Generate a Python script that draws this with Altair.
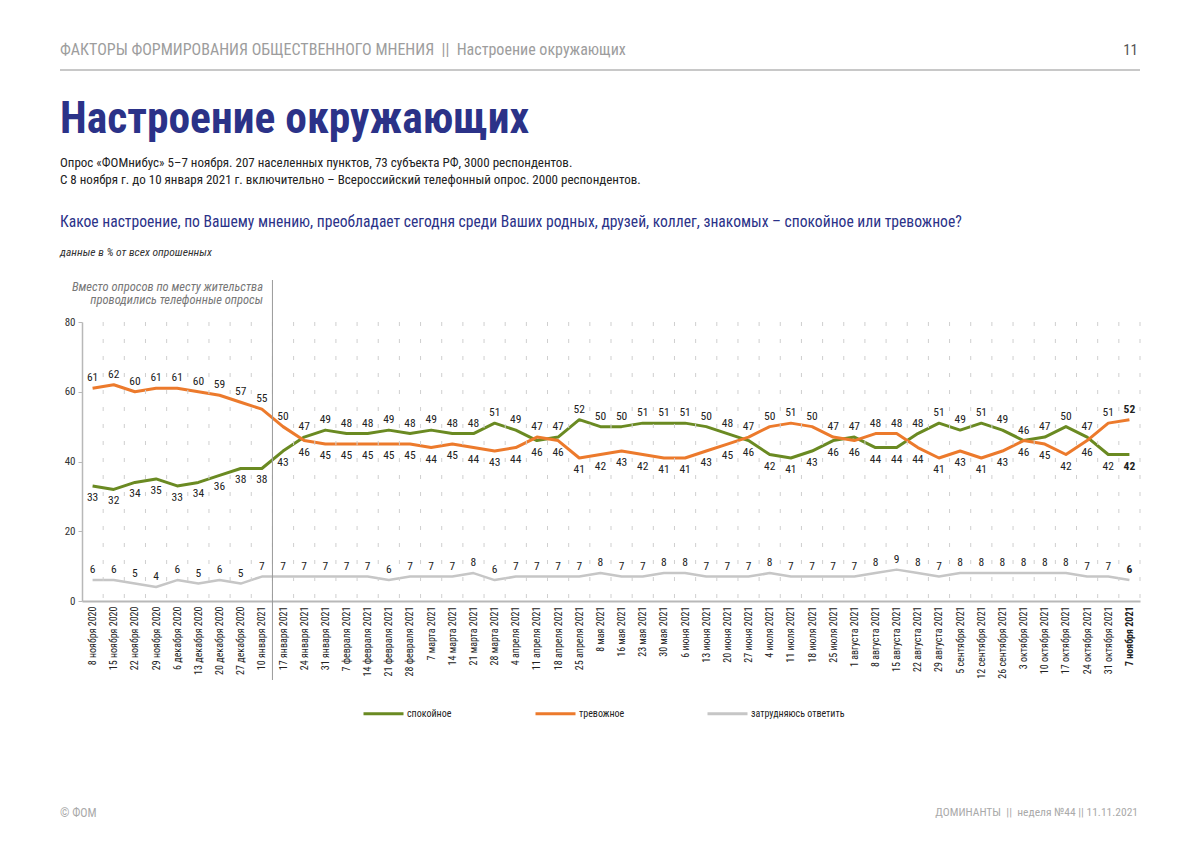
import json
import altair as alt
import pandas as pd

dates = [
    "8 ноября 2020", "15 ноября 2020", "22 ноября 2020", "29 ноября 2020",
    "6 декабря 2020", "13 декабря 2020", "20 декабря 2020", "27 декабря 2020",
    "10 января 2021", "17 января 2021", "24 января 2021", "31 января 2021",
    "7 февраля 2021", "14 февраля 2021", "21 февраля 2021", "28 февраля 2021",
    "7 марта 2021", "14 марта 2021", "21 марта 2021", "28 марта 2021",
    "4 апреля 2021", "11 апреля 2021", "18 апреля 2021", "25 апреля 2021",
    "8 мая 2021", "16 мая 2021", "23 мая 2021", "30 мая 2021",
    "6 июня 2021", "13 июня 2021", "20 июня 2021", "27 июня 2021",
    "4 июля 2021", "11 июля 2021", "18 июля 2021", "25 июля 2021",
    "1 августа 2021", "8 августа 2021", "15 августа 2021", "22 августа 2021",
    "29 августа 2021", "5 сентября 2021", "12 сентября 2021", "26 сентября 2021",
    "3 октября 2021", "10 октября 2021", "17 октября 2021", "24 октября 2021",
    "31 октября 2021", "7 ноября 2021",
]
calm = [33, 32, 34, 35, 33, 34, 36, 38, 38, 43, 47, 49, 48, 48, 49, 48, 49, 48, 48, 51,
        49, 46, 47, 52, 50, 50, 51, 51, 51, 50, 48, 46, 42, 41, 43, 46, 47, 44, 44, 48,
        51, 49, 51, 49, 46, 47, 50, 47, 42, 42]
anxious = [61, 62, 60, 61, 61, 60, 59, 57, 55, 50, 46, 45, 45, 45, 45, 45, 44, 45, 44, 43,
           44, 47, 46, 41, 42, 43, 42, 41, 41, 43, 45, 47, 50, 51, 50, 47, 46, 48, 48, 44,
           41, 43, 41, 43, 46, 45, 42, 46, 51, 52]
unsure = [6, 6, 5, 4, 6, 5, 6, 5, 7, 7, 7, 7, 7, 7, 6, 7, 7, 7, 8, 6,
          7, 7, 7, 7, 8, 7, 7, 8, 8, 7, 7, 7, 8, 7, 7, 7, 7, 8, 9, 8,
          7, 8, 8, 8, 8, 8, 8, 7, 7, 6]
series_names = ["спокойное", "тревожное", "затрудняюсь ответить"]
series_colors = ["#6a8a22", "#ec7a2c", "#c6c6c6"]
y_ticks = [0, 20, 40, 60, 80]

NB = "\u00a0"
header_text = f"ФАКТОРЫ ФОРМИРОВАНИЯ ОБЩЕСТВЕННОГО МНЕНИЯ{NB}{NB}||{NB}{NB}Настроение окружающих"
page_no = "11"
title_text = "Настроение окружающих"
sub1 = "Опрос «ФОМнибус» 5–7 ноября. 207 населенных пунктов, 73 субъекта РФ, 3000 респондентов."
sub2 = "С 8 ноября г. до 10 января 2021 г. включительно – Всероссийский телефонный опрос. 2000 респондентов."
question = "Какое настроение, по Вашему мнению, преобладает сегодня среди Ваших родных, друзей, коллег, знакомых – спокойное или тревожное?"
note = "данные в % от всех опрошенных"
annot = ["Вместо опросов по месту жительства", "проводились телефонные опросы"]
footer_left = "© ФОМ"
footer_right = f"ДОМИНАНТЫ{NB}{NB}||{NB}{NB}неделя №44{NB}||{NB}11.11.2021"
phone_boundary = [8.5]  # between 10 января and 17 января

FONT = "Liberation Sans Narrow, Roboto Condensed, DejaVu Sans Condensed, Open Sans, sans-serif"
NAVY = "#2b3288"

rows = []
for i, d in enumerate(dates):
    rows.append({"idx": i, "date": d, "series": series_names[0], "value": calm[i],
                 "above": calm[i] >= anxious[i]})
    rows.append({"idx": i, "date": d, "series": series_names[1], "value": anxious[i],
                 "above": anxious[i] > calm[i]})
    rows.append({"idx": i, "date": d, "series": series_names[2], "value": unsure[i],
                 "above": True})
df = pd.DataFrame(rows)
last = len(dates) - 1

grid_df = pd.DataFrame({"b": [i + 0.5 for i in range(len(dates))]})
sep_df = pd.DataFrame({"b": phone_boundary})

W, H = 1058, 279

xscale = alt.Scale(domain=[-0.5, len(dates) - 0.5], nice=False, zero=False)
yscale = alt.Scale(domain=[0, 80], nice=False)

label_expr = json.dumps(dates, ensure_ascii=False) + "[datum.value]"

x_axis = alt.Axis(values=list(range(len(dates))), labelExpr=label_expr,
                  labelAngle=-90, labelFontSize=10, labelColor="#222",
                  labelFont=FONT, labelOverlap=False, labelBound=False,
                  labelPadding=5, ticks=False, grid=False, title=None,
                  domainColor="#b8b8b8", domainWidth=2,
                  labelFontWeight={"condition": {"test": f"datum.value == {last}", "value": "bold"},
                                   "value": "normal"})
y_axis = alt.Axis(values=y_ticks, title=None, grid=False,
                  labelFontSize=11, labelColor="#333", labelFont=FONT,
                  tickSize=4, tickColor="#b8b8b8", domainColor="#b8b8b8",
                  domainWidth=1.5, labelPadding=3)


def X(field):
    return alt.X(field, scale=xscale, axis=x_axis)


def Y(field):
    return alt.Y(field, scale=yscale, axis=y_axis)


base = alt.Chart(df)

lines = base.mark_line(strokeJoin="round").encode(
    x=X("idx:Q"),
    y=Y("value:Q"),
    color=alt.Color("series:N", sort=series_names,
                    scale=alt.Scale(domain=series_names, range=series_colors),
                    legend=alt.Legend(orient="none", legendX=280, legendY=370,
                                      direction="horizontal", title=None,
                                      symbolType="stroke", symbolSize=1600,
                                      symbolStrokeWidth=3, labelFontSize=10,
                                      labelFont=FONT, labelColor="#222",
                                      labelOffset=2, gridAlign="all",
                                      columnPadding=28, padding=0)),
    strokeWidth=alt.condition(alt.datum.series == series_names[2], alt.value(2.5), alt.value(3)),
)

grid = alt.Chart(grid_df).mark_rule(color="#cfcfcf", strokeWidth=1, strokeDash=[4, 13]).encode(
    x=X("b:Q"), y=alt.value(0), y2=alt.value(H),
)

sep = alt.Chart(sep_df).mark_rule(color="#9a9a9a", strokeWidth=1).encode(
    x=X("b:Q"), y=alt.value(-42), y2=alt.value(358),
)


def value_labels(pos_filter, dy, bold):
    sel = f"datum.idx == {last}" if bold else f"datum.idx != {last}"
    return base.transform_filter(pos_filter).transform_filter(sel).mark_text(
        dy=dy, fontSize=11.5, font=FONT, color="#222", baseline="middle",
        fontWeight="bold" if bold else "normal"
    ).encode(x=X("idx:Q"), y=Y("value:Q"), text="value:Q")


one = pd.DataFrame({"k": [0]})


def txt(text, x, y, size, color="#222", align="left", weight="normal", style="normal"):
    return alt.Chart(one).mark_text(
        text=text, align=align, baseline="middle", fontSize=size, font=FONT,
        color=color, fontWeight=weight, fontStyle=style
    ).encode(x=alt.value(x), y=alt.value(y))


head_rule = alt.Chart(one).mark_rule(color="#c8c8c8", strokeWidth=2).encode(
    x=alt.value(-22), x2=alt.value(1058), y=alt.value(-252)
)

layers = [
    lines, grid, sep,
    value_labels("datum.above", -10, False),
    value_labels("datum.above", -10, True),
    value_labels("!datum.above", 12, False),
    value_labels("!datum.above", 12, True),
    txt(header_text, -22, -272, 16, color="#9d9d9d"),
    txt(page_no, 1056, -272, 15, color="#555", align="right"),
    head_rule,
    txt(title_text, -22, -202, 43.5, color=NAVY, weight="bold"),
    txt(sub1, -22, -159, 13, color="#222"),
    txt(sub2, -22, -142, 13, color="#222"),
    txt(question, -22, -100, 15.6, color=NAVY),
    txt(note, -22, -69, 11.5, color="#333", style="italic"),
    txt(annot[0], 181, -35, 12.5, color="#777", align="right", style="italic"),
    txt(annot[1], 181, -22, 12.5, color="#777", align="right", style="italic"),
    txt(footer_left, -22, 491, 12, color="#aaa"),
    txt(footer_right, 1056, 491, 11.5, color="#aaa", align="right"),
]

chart = alt.layer(*layers).properties(
    width=W, height=H,
    autosize=alt.AutoSizeParams(type="none"),
    padding={"left": 74, "top": 314, "right": 50, "bottom": 240},
).configure(font=FONT).configure_view(stroke=None)

chart.save("out.html", embed_options={"renderer": "svg", "actions": False})
